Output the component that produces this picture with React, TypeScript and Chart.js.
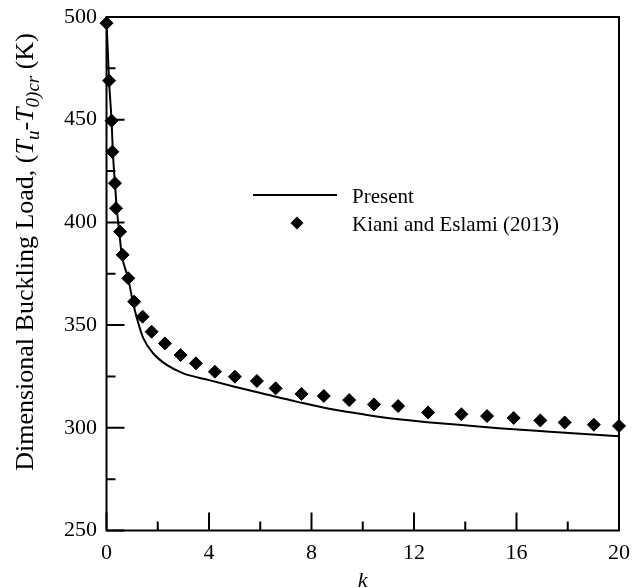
import React, { useEffect, useRef } from "react";
import { Chart, registerables } from "chart.js";

Chart.register(...registerables);

// Reference data: Kiani and Eslami (2013)
const refK = [0, 0.1, 0.2, 0.23, 0.33, 0.37, 0.53, 0.63, 0.85, 1.08, 1.41, 1.76, 2.28, 2.89, 3.49, 4.23, 5.01, 5.87, 6.6, 7.61, 8.48, 9.47, 10.44, 11.38, 12.55, 13.85, 14.85, 15.89, 16.93, 17.88, 19.02, 20];
const refT = [497, 469, 449.5, 434.4, 419.1, 406.9, 395.5, 384.2, 372.8, 361.4, 354.1, 346.8, 341.1, 335.4, 331.4, 327.3, 324.9, 322.8, 319.2, 316.5, 315.5, 313.5, 311.4, 310.6, 307.5, 306.6, 305.7, 304.8, 303.6, 302.6, 301.5, 300.9];

// Present curve
const presK = [0, 0.1, 0.2, 0.25, 0.33, 0.4, 0.5, 0.6, 0.85, 1.05, 1.24, 1.43, 1.82, 2.35, 3.0, 4.0, 5.0, 6.25, 7.5, 8.8, 10.1, 11.4, 13.4, 15.3, 17.3, 20];
const presT = [499, 469, 449, 434, 419, 407, 395, 384, 372.5, 360, 351, 343.8, 336.3, 330.6, 326.5, 323.2, 320, 316.2, 312.5, 309, 306.4, 304.2, 301.8, 299.8, 298.1, 295.9];

const xMajor = [0, 4, 8, 12, 16, 20];
const xMinor = [2, 6, 10, 14, 18];
const yMajor = [250, 300, 350, 400, 450, 500];
const yMinor = [275, 325, 375, 425, 475];

const seriesNames = ["Present", "Kiani and Eslami (2013)"];
const xTitle = "k";
const yTitleSegs = [
  { t: "Dimensional Buckling Load, (", italic: false, sub: false },
  { t: "T", italic: true, sub: false },
  { t: "u", italic: true, sub: true },
  { t: "-", italic: false, sub: false },
  { t: "T", italic: true, sub: false },
  { t: "0)", italic: true, sub: true },
  { t: "cr", italic: true, sub: true },
  { t: " (K)", italic: false, sub: false },
];

const FONT = "'Liberation Serif', 'Times New Roman', serif";
const TICK_FS = 22;
const LEG_FS = 21;
const TITLE_FS = 26;

const decoPlugin = {
  id: "deco",
  afterDraw(chart: any) {
    const ctx = chart.ctx as CanvasRenderingContext2D;
    const ca = chart.chartArea;
    const xs = chart.scales.x;
    const ys = chart.scales.y;
    ctx.save();
    ctx.strokeStyle = "#000";
    ctx.fillStyle = "#000";
    ctx.lineWidth = 2;
    ctx.strokeRect(ca.left, ca.top, ca.right - ca.left, ca.bottom - ca.top);
    ctx.beginPath();
    const MAJ = 18, MIN = 9;
    xMajor.forEach((v) => {
      const p = xs.getPixelForValue(v);
      ctx.moveTo(p, ca.bottom);
      ctx.lineTo(p, ca.bottom - MAJ);
    });
    xMinor.forEach((v) => {
      const p = xs.getPixelForValue(v);
      ctx.moveTo(p, ca.bottom);
      ctx.lineTo(p, ca.bottom - MIN);
    });
    yMajor.forEach((v) => {
      const p = ys.getPixelForValue(v);
      ctx.moveTo(ca.left, p);
      ctx.lineTo(ca.left + MAJ, p);
    });
    yMinor.forEach((v) => {
      const p = ys.getPixelForValue(v);
      ctx.moveTo(ca.left, p);
      ctx.lineTo(ca.left + MIN, p);
    });
    ctx.stroke();

    // x title
    ctx.font = `italic ${TICK_FS}px ${FONT}`;
    ctx.textAlign = "center";
    ctx.textBaseline = "alphabetic";
    ctx.fillText(xTitle, (ca.left + ca.right) / 2, 587);

    // y title (rich text)
    const fontFor = (s: any) =>
      `${s.italic ? "italic " : ""}${s.sub ? Math.round(TITLE_FS * 0.72) : TITLE_FS}px ${FONT}`;
    let total = 0;
    yTitleSegs.forEach((s) => {
      ctx.font = fontFor(s);
      total += ctx.measureText(s.t).width;
    });
    ctx.save();
    ctx.translate(0, 252);
    ctx.rotate(-Math.PI / 2);
    ctx.textAlign = "left";
    let u = -total / 2;
    yTitleSegs.forEach((s) => {
      ctx.font = fontFor(s);
      ctx.fillText(s.t, u, s.sub ? 39 : 33);
      u += ctx.measureText(s.t).width;
    });
    ctx.restore();

    // legend
    ctx.lineWidth = 2;
    ctx.beginPath();
    ctx.moveTo(253, 195);
    ctx.lineTo(337, 195);
    ctx.stroke();
    ctx.beginPath();
    const dx = 297, dy = 223, r = 6.5;
    ctx.moveTo(dx, dy - r);
    ctx.lineTo(dx + r, dy);
    ctx.lineTo(dx, dy + r);
    ctx.lineTo(dx - r, dy);
    ctx.closePath();
    ctx.fill();
    ctx.font = `${LEG_FS}px ${FONT}`;
    ctx.textAlign = "left";
    ctx.fillText(seriesNames[0], 352, 203);
    ctx.fillText(seriesNames[1], 352, 231);
    ctx.restore();
  },
};

export default function App() {
  const ref = useRef<HTMLCanvasElement>(null);
  useEffect(() => {
    document.body.style.margin = "0";
    const chart = new Chart(ref.current!, {
      type: "scatter",
      data: {
        datasets: [
          {
            type: "line",
            label: seriesNames[0],
            data: presK.map((k, i) => ({ x: k, y: presT[i] })),
            borderColor: "#000",
            borderWidth: 2,
            pointRadius: 0,
            fill: false,
            cubicInterpolationMode: "monotone",
          } as any,
          {
            type: "scatter",
            label: seriesNames[1],
            data: refK.map((k, i) => ({ x: k, y: refT[i] })),
            pointStyle: "rectRot",
            pointRadius: 6.5,
            backgroundColor: "#000",
            borderColor: "#000",
            borderWidth: 1,
            clip: false,
          } as any,
        ],
      },
      options: {
        animation: false,
        responsive: false,
        devicePixelRatio: 1,
        layout: { autoPadding: false, padding: { left: 0, right: 13, top: 17, bottom: 0 } },
        plugins: { legend: { display: false }, tooltip: { enabled: false } },
        scales: {
          x: {
            type: "linear",
            min: 0,
            max: 20,
            grid: { display: false, drawTicks: false },
            border: { display: false },
            ticks: {
              stepSize: 4,
              color: "#000",
              padding: 10,
              font: { family: FONT, size: TICK_FS },
              maxRotation: 0,
            },
            afterFit: (s: any) => {
              s.height = 57.5;
              s.paddingLeft = 0;
              s.paddingRight = 0;
            },
          },
          y: {
            type: "linear",
            min: 250,
            max: 500,
            grid: { display: false, drawTicks: false },
            border: { display: false },
            ticks: {
              stepSize: 50,
              color: "#000",
              padding: 9.5,
              font: { family: FONT, size: TICK_FS },
            },
            afterFit: (s: any) => {
              s.width = 106.5;
              s.paddingTop = 0;
              s.paddingBottom = 0;
            },
          },
        },
      },
      plugins: [decoPlugin],
    });
    return () => chart.destroy();
  }, []);
  return (
    <div style={{ width: 632, height: 588, background: "#fff" }}>
      <canvas ref={ref} width={632} height={588} style={{ display: "block" }} />
    </div>
  );
}
